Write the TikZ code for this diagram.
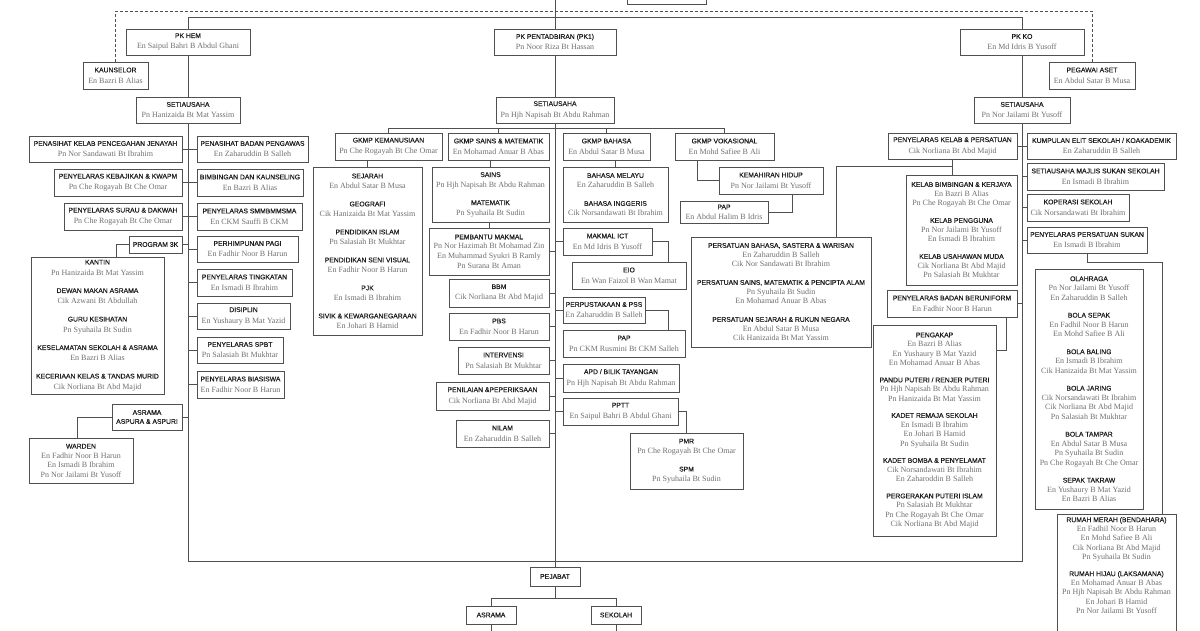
\documentclass[tikz,border=0pt]{standalone}
\usepackage{fontspec}
\setmainfont{Liberation Serif}
\setsansfont{Liberation Sans}
\newfontfamily\hdfont{Liberation Sans}[FakeBold=0.4]
\pgfdeclarelayer{back}
\pgfdeclarelayer{bg}
\pgfsetlayers{back,bg,main}
\definecolor{hdcol}{HTML}{1E1E1E}
\definecolor{nmcol}{HTML}{707070}
\definecolor{lncol}{HTML}{505050}
\newcommand\hdx[1]{{\hdfont\fontsize{6.8}{8}\selectfont\color{hdcol}#1}}
\newcommand\nmx[1]{{\rmfamily\fontsize{8}{9}\selectfont\color{nmcol}#1}}
\tikzset{
  bx/.style={draw=lncol, fill=white, line width=0.8pt, inner sep=1pt, align=center, font=\fontsize{7}{11}\selectfont},
  ls/.style={font=\fontsize{7}{#1}\selectfont},
  ln/.style={draw=lncol, line width=0.8pt},
}
\newcommand\obox[6][]{\node[bx,#1, minimum width={#5-#3}, minimum height={#6-#4}] (#2) at ({(#3+#5)/2},{(#4+#6)/2})}
\begin{document}
\begin{tikzpicture}[x=1pt,y=-1pt]
\useasboundingbox (0,0) rectangle (1200,630);
\clip (0,0) rectangle (1200,630);
\begin{pgfonlayer}{back}
\fill[white] (0,0) rectangle (1200,630);
\end{pgfonlayer}
% top box (cut off)
\node[bx, minimum width=79, minimum height=30] (topbox) at (666.5,-11) {};
% ---------- HEM ----------
\obox{hem}{126}{29}{250}{55} {\hdx{PK HEM}\\\nmx{En Saipul Bahri B Abdul Ghani}};
\obox{kaun}{83}{62}{148}{89} {\hdx{KAUNSELOR}\\\nmx{En Bazri B Alias}};
\obox{seth}{136}{97}{240}{123} {\hdx{SETIAUSAHA}\\\nmx{Pn Hanizaida Bt Mat Yassim}};
\obox{pkj}{29}{136}{182}{162} {\hdx{PENASIHAT KELAB PENCEGAHAN JENAYAH}\\\nmx{Pn Nor Sandawati Bt Ibrahim}};
\obox{pbp}{197}{136}{308}{162} {\hdx{PENASIHAT BADAN PENGAWAS}\\\nmx{En Zaharuddin B Salleh}};
\obox{kwapm}{54}{169}{182}{196} {\hdx{PENYELARAS KEBAJIKAN \& KWAPM}\\\nmx{Pn Che Rogayah Bt Che Omar}};
\obox{bk}{197}{169}{303}{196} {\hdx{BIMBINGAN DAN KAUNSELING}\\\nmx{En Bazri B Alias}};
\obox{surau}{64}{203}{182}{230} {\hdx{PENYELARAS SURAU \& DAKWAH}\\\nmx{Pn Che Rogayah Bt Che Omar}};
\obox{smm}{197}{203}{302}{230} {\hdx{PENYELARAS SMMBMMSMA}\\\nmx{En CKM Sauffi B CKM}};
\obox{p3k}{129}{236}{182}{253} {\hdx{PROGRAM 3K}};
\obox{php}{197}{236}{298}{262} {\hdx{PERHIMPUNAN PAGI}\\\nmx{En Fadhir Noor B Harun}};
\obox{tkt}{197}{269}{292}{296} {\hdx{PENYELARAS TINGKATAN}\\\nmx{En Ismadi B Ibrahim}};
\obox{dis}{197}{303}{290}{329} {\hdx{DISIPLIN}\\\nmx{En Yushaury B Mat Yazid}};
\obox{spbt}{197}{337}{283}{363} {\hdx{PENYELARAS SPBT}\\\nmx{Pn Salasiah Bt Mukhtar}};
\obox{bias}{197}{371}{284}{398} {\hdx{PENYELARAS BIASISWA}\\\nmx{En Fadhir Noor B Harun}};
\obox{kantin}{31}{257}{164}{394} {\hdx{KANTIN}\\\nmx{Pn Hanizaida Bt Mat Yassim}\\[6.5pt]
  \hdx{DEWAN MAKAN ASRAMA}\\\nmx{Cik Azwani Bt Abdullah}\\[6.5pt]
  \hdx{GURU KESIHATAN}\\\nmx{Pn Syuhaila Bt Sudin}\\[6.5pt]
  \hdx{KESELAMATAN SEKOLAH \& ASRAMA}\\\nmx{En Bazri B Alias}\\[6.5pt]
  \hdx{KECERIAAN KELAS \& TANDAS MURID}\\\nmx{Cik Norliana Bt Abd Majid}};
\obox[ls=9]{asr}{112}{404}{182}{430} {\hdx{ASRAMA}\\\hdx{ASPURA \& ASPURI}};
\obox[ls=9.5]{ward}{29}{438}{133}{483} {\hdx{WARDEN}\\\nmx{En Fadhir Noor B Harun}\\\nmx{En Ismadi B Ibrahim}\\\nmx{Pn Nor Jailami Bt Yusoff}};
% ---------- PENTADBIRAN ----------
\obox{pk1}{494}{29}{616}{55} {\hdx{PK PENTADBIRAN (PK1)}\\\nmx{Pn Noor Riza Bt Hassan}};
\obox{set1}{496}{97}{614}{123} {\hdx{SETIAUSAHA}\\\nmx{Pn Hjh Napisah Bt Abdu Rahman}};
\obox{gkem}{335}{133}{442}{160} {\hdx{GKMP KEMANUSIAAN}\\\nmx{Pn Che Rogayah Bt Che Omar}};
\obox{gsm}{448}{133}{549}{160} {\hdx{GKMP SAINS \& MATEMATIK}\\\nmx{En Mohamad Anuar B Abas}};
\obox{gba}{563}{133}{650}{160} {\hdx{GKMP BAHASA}\\\nmx{En Abdul Satar B Musa}};
\obox{gvo}{675}{133}{774}{160} {\hdx{GKMP VOKASIONAL}\\\nmx{En Mohd Safiee B Ali}};
\obox[ls=10]{sej}{313}{167}{422}{335} {\hdx{SEJARAH}\\\nmx{En Abdul Satar B Musa}\\[8pt]
  \hdx{GEOGRAFI}\\\nmx{Cik Hanizaida Bt Mat Yassim}\\[8pt]
  \hdx{PENDIDIKAN ISLAM}\\\nmx{Pn Salasiah Bt Mukhtar}\\[8pt]
  \hdx{PENDIDIKAN SENI VISUAL}\\\nmx{En Fadhir Noor B Harun}\\[8pt]
  \hdx{PJK}\\\nmx{En Ismadi B Ibrahim}\\[8pt]
  \hdx{SIVIK \& KEWARGANEGARAAN}\\\nmx{En Johari B Hamid}};
\obox[ls=10]{sains}{432}{167}{549}{222} {\hdx{SAINS}\\\nmx{Pn Hjh Napisah Bt Abdu Rahman}\\[8pt]\hdx{MATEMATIK}\\\nmx{Pn Syuhaila Bt Sudin}};
\obox[ls=10]{bm}{563}{167}{668}{222} {\hdx{BAHASA MELAYU}\\\nmx{En Zaharuddin B Salleh}\\[8pt]\hdx{BAHASA INGGERIS}\\\nmx{Cik Norsandawati Bt Ibrahim}};
\obox[ls=9.7]{pm}{429}{228}{549}{275} {\hdx{PEMBANTU MAKMAL}\\\nmx{Pn Nor Hazimah Bt Mohamad Zin}\\\nmx{En Muhammad Syukri B Ramly}\\\nmx{Pn Surana Bt Aman}};
\obox{bbm}{449}{279}{549}{307} {\hdx{BBM}\\\nmx{Cik Norliana Bt Abd Majid}};
\obox{pbs}{449}{313}{549}{340} {\hdx{PBS}\\\nmx{En Fadhir Noor B Harun}};
\obox{intv}{458}{347}{549}{374} {\hdx{INTERVENSI}\\\nmx{Pn Salasiah Bt Mukhtar}};
\obox{pen}{436}{382}{549}{410} {\hdx{PENILAIAN \&PEPERIKSAAN}\\\nmx{Cik Norliana Bt Abd Majid}};
\obox{nilam}{456}{420}{549}{447} {\hdx{NILAM}\\\nmx{En Zaharuddin B Salleh}};
\obox{ict}{563}{228}{652}{255} {\hdx{MAKMAL ICT}\\\nmx{En Md Idris B Yusoff}};
\obox{eio}{572}{262}{686}{289} {\hdx{EIO}\\\nmx{En Wan Faizol B Wan Mamat}};
\obox{perp}{563}{297}{645}{323} {\hdx{PERPUSTAKAAN \& PSS}\\\nmx{En Zaharuddin B Salleh}};
\obox{papr}{563}{330}{685}{357} {\hdx{PAP}\\\nmx{Pn CKM Rusmini Bt CKM Salleh}};
\obox{apd}{563}{364}{679}{392} {\hdx{APD / BILIK TAYANGAN}\\\nmx{Pn Hjh Napisah Bt Abdu Rahman}};
\obox{pptt}{563}{398}{678}{425} {\hdx{PPTT}\\\nmx{En Saipul Bahri B Abdul Ghani}};
\obox[ls=10]{pmr}{630}{433}{743}{489} {\hdx{PMR}\\\nmx{Pn Che Rogayah Bt Che Omar}\\[8pt]\hdx{SPM}\\\nmx{Pn Syuhaila Bt Sudin}};
\obox{kh}{719}{167}{823}{194} {\hdx{KEMAHIRAN HIDUP}\\\nmx{Pn Nor Jailami Bt Yusoff}};
\obox[ls=10]{paph}{680}{201}{768}{223} {\hdx{PAP}\\\nmx{En Abdul Halim B Idris}};
\obox[ls=9.5]{pbsw}{691}{237}{871}{347} {\hdx{PERSATUAN BAHASA, SASTERA \& WARISAN}\\\nmx{En Zaharuddin B Salleh}\\\nmx{Cik Nor Sandawati Bt Ibrahim}\\[8.5pt]
  \hdx{PERSATUAN SAINS, MATEMATIK \& PENCIPTA ALAM}\\\nmx{Pn Syuhaila Bt Sudin}\\\nmx{En Mohamad Anuar B Abas}\\[8.5pt]
  \hdx{PERSATUAN SEJARAH \& RUKUN NEGARA}\\\nmx{En Abdul Satar B Musa}\\\nmx{Cik Hanizaida Bt Mat Yassim}};
\obox{pej}{530}{567}{580}{586} {\hdx{PEJABAT}};
\obox{asr2}{466}{606}{516}{624} {\hdx{ASRAMA}};
\obox{sek}{591}{606}{641}{624} {\hdx{SEKOLAH}};
% ---------- KO ----------
\obox{pkko}{960}{29}{1084}{55} {\hdx{PK KO}\\\nmx{En Md Idris B Yusoff}};
\obox{peg}{1049}{62}{1135}{89} {\hdx{PEGAWAI ASET}\\\nmx{En Abdul Satar B Musa}};
\obox{setko}{974}{97}{1070}{123} {\hdx{SETIAUSAHA}\\\nmx{Pn Nor Jailami Bt Yusoff}};
\obox{pkp}{888}{133}{1017}{159} {\hdx{PENYELARAS KELAB \& PERSATUAN}\\\nmx{Cik Norliana Bt Abd Majid}};
\obox{elit}{1027}{133}{1176}{159} {\hdx{KUMPULAN ELIT SEKOLAH / KOAKADEMIK}\\\nmx{En Zaharuddin B Salleh}};
\obox{msk}{1027}{163}{1164}{190} {\hdx{SETIAUSAHA MAJLIS SUKAN SEKOLAH}\\\nmx{En Ismadi B Ibrahim}};
\obox{kop}{1027}{194}{1129}{221} {\hdx{KOPERASI SEKOLAH}\\\nmx{Cik Norsandawati Bt Ibrahim}};
\obox{psu}{1027}{227}{1147}{253} {\hdx{PENYELARAS PERSATUAN SUKAN}\\\nmx{En Ismadi B Ibrahim}};
\obox[ls=9.5]{kbk}{906}{175}{1017}{285} {\hdx{KELAB BIMBINGAN \& KERJAYA}\\\nmx{En Bazri B Alias}\\\nmx{Pn Che Rogayah Bt Che Omar}\\[7.5pt]
  \hdx{KELAB PENGGUNA}\\\nmx{Pn Nor Jailami Bt Yusoff}\\\nmx{En Ismadi B Ibrahim}\\[7.5pt]
  \hdx{KELAB USAHAWAN MUDA}\\\nmx{Cik Norliana Bt Abd Majid}\\\nmx{Pn Salasiah Bt Mukhtar}};
\obox{bub}{887}{290}{1017}{317} {\hdx{PENYELARAS BADAN BERUNIFORM}\\\nmx{En Fadhir Noor B Harun}};
\obox[ls=9.5]{peng}{873}{325}{996}{536} {\hdx{PENGAKAP}\\\nmx{En Bazri B Alias}\\\nmx{En Yushaury B Mat Yazid}\\\nmx{En Mohamad Anuar B Abas}\\[7pt]
  \hdx{PANDU PUTERI / RENJER PUTERI}\\\nmx{Pn Hjh Napisah Bt Abdu Rahman}\\\nmx{Pn Hanizaida Bt Mat Yassim}\\[7pt]
  \hdx{KADET REMAJA SEKOLAH}\\\nmx{En Ismadi B Ibrahim}\\\nmx{En Johari B Hamid}\\\nmx{Pn Syuhaila Bt Sudin}\\[7pt]
  \hdx{KADET BOMBA \& PENYELAMAT}\\\nmx{Cik Norsandawati Bt Ibrahim}\\\nmx{En Zaharoddin B Salleh}\\[7pt]
  \hdx{PERGERAKAN PUTERI ISLAM}\\\nmx{Pn Salasiah Bt Mukhtar}\\\nmx{Pn Che Rogayah Bt Che Omar}\\\nmx{Cik Norliana Bt Abd Majid}};
\obox[ls=9.5]{ola}{1035}{269}{1143}{509} {\hdx{OLAHRAGA}\\\nmx{Pn Nor Jailami Bt Yusoff}\\\nmx{En Zaharuddin B Salleh}\\[8pt]
  \hdx{BOLA SEPAK}\\\nmx{En Fadhil Noor B Harun}\\\nmx{En Mohd Safiee B Ali}\\[8pt]
  \hdx{BOLA BALING}\\\nmx{En Ismadi B Ibrahim}\\\nmx{Cik Hanizaida Bt Mat Yassim}\\[8pt]
  \hdx{BOLA JARING}\\\nmx{Cik Norsandawati Bt Ibrahim}\\\nmx{Cik Norliana Bt Abd Majid}\\\nmx{Pn Salasiah Bt Mukhtar}\\[8pt]
  \hdx{BOLA TAMPAR}\\\nmx{En Abdul Satar B Musa}\\\nmx{Pn Syuhaila Bt Sudin}\\\nmx{Pn Che Rogayah Bt Che Omar}\\[8pt]
  \hdx{SEPAK TAKRAW}\\\nmx{En Yushaury B Mat Yazid}\\\nmx{En Bazri B Alias}};
\obox{rumahb}{1057}{514}{1176}{680} {};
\node[ls=9.3, align=center, inner sep=0pt, anchor=north] (rumah) at (1116.5,517)
  {\hdx{RUMAH MERAH (BENDAHARA)}\\\nmx{En Fadhil Noor B Harun}\\\nmx{En Mohd Safiee B Ali}\\\nmx{Cik Norliana Bt Abd Majid}\\\nmx{Pn Syuhaila Bt Sudin}\\[7.5pt]
   \hdx{RUMAH HIJAU (LAKSAMANA)}\\\nmx{En Mohamad Anuar B Abas}\\\nmx{Pn Hjh Napisah Bt Abdu Rahman}\\\nmx{En Johari B Hamid}\\\nmx{Pn Nor Jailami Bt Yusoff}};
% ---------- connectors ----------
\begin{pgfonlayer}{bg}
\coordinate (tl) at (188,17);
\coordinate (br) at (1022,561);
\coordinate (ctop) at (555,-10);
\coordinate (dtop) at (0,11);
\coordinate (bus) at (0,128);
\draw[ln] (tl) rectangle (br);
\draw[ln] (ctop) -- (pej.north);
\draw[ln, dash pattern=on 3pt off 2pt] (kaun.north) -- (kaun.north |- dtop) -- (peg.north |- dtop) -- (peg.north);
% HEM
\draw[ln] (pkj.east) -- (pbp.west);
\draw[ln] (kwapm.east) -- (bk.west);
\draw[ln] (surau.east) -- (smm.west);
\draw[ln] (p3k.east) -- (p3k.east -| tl);
\draw[ln] (p3k.west) -| ([xshift=18.5pt]kantin.north);
\foreach \n in {php,tkt,dis,spbt,bias} \draw[ln] (\n.west) -- (\n.west -| tl);
\draw[ln] (asr.east) -- (asr.east -| tl);
\draw[ln] (asr.west) -| ([xshift=-4pt]ward.north);
% PK1
\draw[ln] (gkem.north) -- (gkem.north |- bus) -- (gvo.north |- bus) -- (gvo.north);
\draw[ln] (gsm.north) -- (gsm.north |- bus);
\draw[ln] (gba.north) -- (gba.north |- bus);
\draw[ln] (sej.north) -- (sej.north |- gkem.south);
\draw[ln] (sains.north) -- (sains.north |- gsm.south);
\draw[ln] (pm.north) -- (pm.north |- sains.south);
\draw[ln] (bm.north) -- (bm.north |- gba.south);
\foreach \n in {pm,bbm,pbs,intv,pen,nilam} \draw[ln] (\n.east) -- (\n.east -| ctop);
\foreach \n in {ict,perp,apd,pptt} \draw[ln] (\n.west) -- (\n.west -| ctop);
\draw[ln] (ict.east) -| ([xshift=39pt]eio.north);
\draw[ln] (perp.east) -| ([xshift=44pt]papr.north);
\draw[ln] (pptt.east) -| (pmr.north);
\draw[ln] ([xshift=-27.5pt]gvo.south) |- (kh.west);
\draw[ln] ([xshift=21pt]kh.south) |- (paph.east);
\draw[ln] (pej.south) -- ++(0,12) -| (asr2.north);
\draw[ln] (pej.south) ++(0,12) -| (sek.north);
\draw[ln] (asr2.south) -- ++(0,10);
\draw[ln] (sek.south) -- ++(0,10);
% KO
\draw[ln] (pkp.east) -- (elit.west);
\foreach \n in {msk,kop,psu} \draw[ln] (\n.west) -- (\n.west -| br);
\draw[ln] (bub.east) -- (bub.east -| br);
\draw[ln] (pkp.south) -- (pkp.south |- kbk.north);
\draw[ln] (pkp.south) ++(0,7) -| ([xshift=55pt]pbsw.north);
\draw[ln] ([xshift=54pt]bub.south) |- ([yshift=-26pt]peng.north east);
\draw[ln] (psu.south) -- ++(0,9) -| ([xshift=45.5pt]rumahb.north);
\end{pgfonlayer}
\end{tikzpicture}
\end{document}
